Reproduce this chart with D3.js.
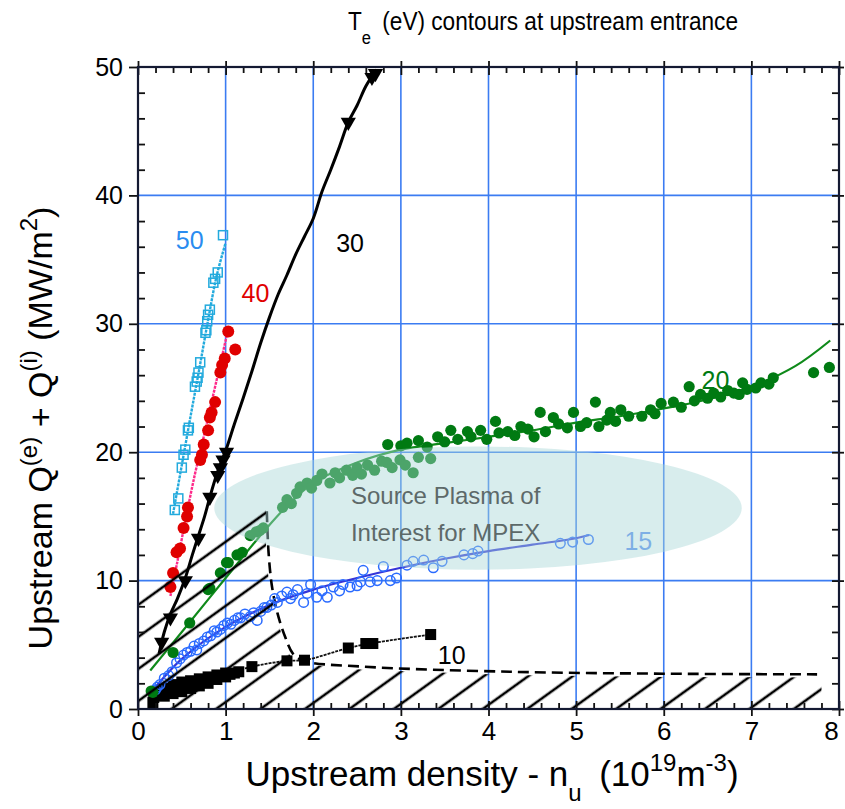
<!DOCTYPE html>
<html>
<head>
<meta charset="utf-8">
<script src="https://cdn.jsdelivr.net/npm/d3@7/dist/d3.min.js"></script>
<style>
  body { margin: 0; background: #fff; }
  #chart { width: 845px; height: 809px; }
  #chart text { font-family: "Liberation Sans", Arial, Helvetica, sans-serif; }
</style>
</head>
<body>
<div id="chart"></div>
<script>
// ticks
const xTicks = [0, 1, 2, 3, 4, 5, 6, 7, 8];
const yTicks = [0, 10, 20, 30, 40, 50];

// Te = 10 eV, filled squares (dense band at low density)
const te10Points = [
  [0.17, 0.5], [0.18, 0.9], [0.2, 1.3], [0.22, 1.1], [0.26, 1.2], [0.3, 1.0], [0.3, 1.6], [0.35, 1.5],
  [0.4, 1.2], [0.4, 1.9], [0.45, 1.7], [0.5, 1.35], [0.5, 2.1], [0.55, 1.9], [0.6, 1.6], [0.6, 2.2],
  [0.65, 2.1], [0.7, 1.8], [0.7, 2.35], [0.75, 2.25], [0.8, 2.0], [0.8, 2.5], [0.85, 2.45], [0.9, 2.3],
  [0.9, 2.65], [0.95, 2.6], [1.0, 2.5], [1.0, 2.8], [1.05, 2.7], [1.1, 2.8], [1.15, 2.9],
  [1.3, 3.3], [1.7, 3.75], [1.9, 3.8], [2.4, 4.75], [2.6, 5.1], [2.68, 5.1], [3.34, 5.8]
];
const te10Line = [[0.15, 0.6], [0.5, 1.8], [1.0, 2.7], [1.3, 3.3], [1.7, 3.75], [1.9, 3.8], [2.4, 4.75], [2.65, 5.1], [3.34, 5.8]];

// Te = 15 eV, open circles
const te15Points = [
  [0.2, 1.5], [0.22, 1.7], [0.25, 1.9], [0.3, 2.4], [0.35, 2.6], [0.39, 2.9], [0.44, 3.6], [0.48, 3.9],
  [0.52, 4.2], [0.56, 4.4], [0.6, 4.5], [0.64, 4.9], [0.67, 4.6], [0.7, 5.1], [0.75, 5.3], [0.79, 5.6],
  [0.83, 5.7], [0.87, 6.1], [0.9, 6.0], [0.94, 6.2], [0.98, 6.5], [1.02, 6.7], [1.06, 6.6], [1.1, 6.9],
  [1.14, 7.1], [1.17, 7.1], [1.22, 7.4], [1.28, 7.2], [1.32, 7.5], [1.36, 6.9], [1.4, 7.6], [1.44, 7.9],
  [1.47, 7.9], [1.52, 8.1], [1.56, 8.6], [1.59, 8.3], [1.64, 8.8], [1.7, 9.1], [1.74, 8.6], [1.77, 8.9],
  [1.82, 9.3], [1.89, 8.3], [1.93, 9.0], [1.97, 9.7], [2.04, 8.7], [2.1, 9.2], [2.16, 8.7], [2.23, 9.5],
  [2.3, 9.2], [2.34, 9.7], [2.42, 9.5], [2.5, 9.6], [2.54, 9.9], [2.57, 10.8], [2.65, 9.9], [2.73, 10.0],
  [2.8, 11.1], [2.88, 10.0], [2.95, 10.2], [3.07, 11.2], [3.14, 11.5], [3.26, 11.6], [3.37, 11.0],
  [3.47, 11.5], [3.72, 12.0], [3.82, 12.1], [3.88, 12.3], [4.82, 12.9], [4.96, 13.0], [5.14, 13.2]
];
const te15Line = [[0.15, 1.3], [0.5, 3.9], [1.0, 6.4], [1.5, 8.1], [2.0, 9.3], [2.5, 10.2], [3.0, 11.0], [3.5, 11.7], [4.0, 12.3], [4.5, 12.8], [5.0, 13.3], [5.15, 13.55]];

// Te = 20 eV, filled circles
const te20Points = [
  [0.15, 1.4], [0.17, 1.3], [0.4, 4.4], [0.59, 6.7], [0.8, 9.3], [0.82, 9.4], [0.94, 10.6], [1.01, 11.4],
  [1.03, 11.4], [1.13, 12.0], [1.19, 12.2], [1.28, 13.5], [1.35, 13.8], [1.39, 13.9], [1.43, 14.1],
  [1.65, 15.7], [1.7, 16.3], [1.75, 16.0], [1.81, 16.8], [1.85, 17.3], [1.93, 17.6], [1.98, 17.2],
  [2.04, 17.8], [2.1, 18.3], [2.19, 17.6], [2.25, 18.4], [2.3, 18.0], [2.38, 18.6], [2.45, 18.2],
  [2.5, 18.8], [2.55, 18.3], [2.62, 19.0], [2.7, 18.6], [2.78, 19.3], [2.84, 19.2], [2.9, 18.8],
  [2.99, 19.4], [3.05, 19.0], [3.14, 18.4], [3.2, 19.6], [3.34, 19.5],
  [2.85, 20.6], [3.0, 20.5], [3.07, 20.7], [3.2, 20.9], [3.3, 20.4], [3.42, 21.2], [3.5, 20.8],
  [3.57, 21.7], [3.65, 21.0], [3.76, 21.6], [3.8, 21.2], [3.91, 21.7], [3.98, 21.0], [4.08, 22.4],
  [4.12, 21.5], [4.22, 21.6], [4.3, 21.3], [4.37, 22.0], [4.45, 21.8], [4.52, 21.2], [4.59, 23.1],
  [4.65, 21.6], [4.74, 22.7], [4.8, 22.2], [4.9, 21.9], [4.97, 23.1], [5.05, 22.0], [5.12, 22.3],
  [5.22, 23.9], [5.26, 22.0], [5.35, 22.5], [5.39, 23.1], [5.45, 22.4], [5.51, 23.3], [5.6, 22.8],
  [5.75, 22.8], [5.85, 23.3], [5.9, 23.0], [5.97, 23.8], [6.11, 23.9], [6.2, 23.5], [6.29, 25.1],
  [6.35, 24.0], [6.42, 24.5], [6.5, 24.2], [6.57, 24.6], [6.65, 24.3], [6.73, 24.8], [6.8, 24.6],
  [6.86, 24.5], [6.9, 25.4], [6.95, 24.9], [7.05, 25.0], [7.11, 25.4], [7.2, 25.3], [7.25, 25.8],
  [7.71, 26.2], [7.89, 26.6]
];
const te20Line = [[0.14, 3.0], [0.5, 6.0], [1.0, 10.2], [1.47, 14.1], [1.7, 15.8], [2.0, 17.6], [2.5, 19.2], [3.0, 20.2], [3.5, 20.7], [4.0, 21.2], [4.5, 21.7], [5.0, 22.3], [5.5, 22.8], [6.0, 23.4], [6.5, 24.1], [7.0, 25.1], [7.5, 26.7], [7.9, 28.7]];

// Te = 30 eV, down triangles
const te30Points = [[0.27, 5.2], [0.37, 7.1], [0.54, 10.0], [0.69, 13.3], [0.82, 16.5], [0.91, 18.2], [0.94, 18.8], [0.97, 19.4], [1.01, 20.0], [2.40, 45.7], [2.67, 49.2], [2.71, 49.5]];
const te30Line = [[0.24, 4.3], [0.3, 6.0], [0.37, 7.4], [0.45, 8.6], [0.54, 10.2], [0.62, 12.0], [0.69, 13.5], [0.76, 15.0], [0.82, 16.5], [0.9, 18.3], [1.01, 20.3], [1.1, 22.2], [1.2, 24.2], [1.3, 26.3], [1.4, 28.5], [1.5, 30.5], [1.6, 32.3], [1.7, 33.8], [1.8, 35.4], [1.9, 36.8], [2.0, 38.2], [2.1, 40.3], [2.2, 42.0], [2.3, 43.8], [2.4, 45.7], [2.5, 47.0], [2.6, 48.5], [2.72, 49.8]];

// Te = 40 eV, red dots
const te40Points = [[0.37, 9.5], [0.4, 10.6], [0.44, 12.2], [0.48, 12.5], [0.52, 14.1], [0.56, 15.0], [0.57, 15.7], [0.71, 19.4], [0.73, 19.8], [0.75, 20.6], [0.8, 21.7], [0.82, 22.7], [0.84, 23.1], [0.88, 23.9], [0.94, 26.2], [0.96, 26.8], [0.99, 27.3], [1.03, 29.4], [1.11, 28.0]];
const te40Line = [[0.37, 8.8], [0.45, 11.5], [0.55, 15.0], [0.65, 18.3], [0.75, 21.2], [0.85, 24.2], [0.95, 27.2], [1.03, 29.6]];

// Te = 50 eV, open squares
const te50Points = [[0.42, 15.5], [0.46, 16.4], [0.5, 18.8], [0.52, 19.8], [0.54, 20.2], [0.57, 21.7], [0.58, 21.9], [0.65, 25.1], [0.67, 25.5], [0.68, 25.8], [0.69, 26.2], [0.71, 27.0], [0.77, 29.3], [0.78, 29.5], [0.79, 30.2], [0.8, 30.7], [0.82, 31.1], [0.86, 33.2], [0.88, 33.5], [0.91, 34.0], [0.97, 36.9]];
const te50Line = [[0.4, 15.2], [0.5, 19.0], [0.6, 22.8], [0.7, 26.5], [0.8, 30.3], [0.9, 33.8], [1.0, 36.3]];

// dashed limit and hatched (excluded) region
const limitLine = [[1.47, 15.4], [1.49, 12.2], [1.53, 9.5], [1.59, 7.5], [1.68, 5.6], [1.77, 4.3], [1.89, 3.75], [2.57, 3.3], [4.25, 2.9], [6.0, 2.75], [7.75, 2.7]];
const hatchRegion = [[0, 0], [0, 8.6], [1.46, 15.7], [1.46, 12.2], [1.5, 9.5], [1.56, 7.5], [1.65, 5.6], [1.74, 4.1], [1.86, 3.5], [2.57, 3.05], [4.25, 2.65], [6.0, 2.5], [7.8, 2.45], [7.8, 0]];

// contour labels
const contourLabels = [
  { text: '50', x: 0.59, y: 36.5, color: '#2a8cf0' },
  { text: '40', x: 1.34, y: 32.4, color: '#e00000' },
  { text: '30', x: 2.42, y: 36.3, color: '#000000' },
  { text: '20', x: 6.59, y: 25.6, color: '#007a12' },
  { text: '15', x: 5.71, y: 13.1, color: '#5b8ff0' },
  { text: '10', x: 3.58, y: 4.2, color: '#000000' }
];
const regionText = ['Source Plasma of', 'Interest for MPEX'];

class ContourChart {
  constructor(id) {
    this.id = id;
    this.width = 845;
    this.height = 809;
    this.margin = { top: 67, right: 6, bottom: 100, left: 138 };
    this.innerWidth = this.width - this.margin.left - this.margin.right;
    this.innerHeight = this.height - this.margin.top - this.margin.bottom;
  }

  init() {
    this.svg = d3.select(`#${this.id}`).append('svg')
      .attr('width', this.width)
      .attr('height', this.height)
      .style('background', '#fff');
    this.mg = this.svg.append('g')
      .attr('transform', `translate(${this.margin.left},${this.margin.top})`);
    this.x = d3.scaleLinear().domain([0, 8]).range([0, this.innerWidth]);
    this.y = d3.scaleLinear().domain([0, 50]).range([this.innerHeight, 0]);
    this.line = d3.line().x(d => this.x(d[0])).y(d => this.y(d[1])).curve(d3.curveCatmullRom);
    return this;
  }

  render() {
    this.renderGrid();
    this.renderLimit();
    this.renderSeries();
    this.renderRegion();
    this.renderHatch();
    this.renderAxes();
    this.renderTitles();
    return this;
  }

  renderGrid() {
    const g = this.mg.append('g').attr('class', 'grid');
    g.selectAll('line.gx').data(xTicks.slice(1, -1)).join('line')
      .attr('x1', d => this.x(d)).attr('x2', d => this.x(d))
      .attr('y1', 0).attr('y2', this.innerHeight)
      .attr('stroke', '#3b7cf2').attr('stroke-width', 1.6);
    g.selectAll('line.gy').data(yTicks.slice(1, -1)).join('line')
      .attr('y1', d => this.y(d)).attr('y2', d => this.y(d))
      .attr('x1', 0).attr('x2', this.innerWidth)
      .attr('stroke', '#3b7cf2').attr('stroke-width', 1.6);
  }

  renderLimit() {
    this.mg.append('path')
      .datum(limitLine)
      .attr('d', this.line)
      .attr('fill', 'none')
      .attr('stroke', '#000')
      .attr('stroke-width', 2.6)
      .attr('stroke-dasharray', '11,6');
  }

  renderSeries() {
    const g = this.mg.append('g').attr('class', 'series');

    // Te 10
    g.append('path').datum(te10Line).attr('d', this.line)
      .attr('fill', 'none').attr('stroke', '#111').attr('stroke-width', 1.8).attr('stroke-dasharray', '3,1');
    g.selectAll('rect.t10').data(te10Points).join('rect')
      .attr('x', d => this.x(d[0]) - 5.5).attr('y', d => this.y(d[1]) - 5.5)
      .attr('width', 11).attr('height', 11).attr('fill', '#000');

    // Te 15
    g.append('path').datum(te15Line).attr('d', this.line)
      .attr('fill', 'none').attr('stroke', '#3535d8').attr('stroke-width', 2.2);
    g.selectAll('circle.t15').data(te15Points).join('circle')
      .attr('cx', d => this.x(d[0])).attr('cy', d => this.y(d[1])).attr('r', 4.8)
      .attr('fill', 'none').attr('stroke', '#2a6bff').attr('stroke-width', 1.5);

    // Te 20
    g.append('path').datum(te20Line).attr('d', this.line)
      .attr('fill', 'none').attr('stroke', '#0f8a1a').attr('stroke-width', 2.2);
    g.selectAll('circle.t20').data(te20Points).join('circle')
      .attr('cx', d => this.x(d[0])).attr('cy', d => this.y(d[1])).attr('r', 5.6)
      .attr('fill', '#007a12');

    // Te 30
    g.append('path').datum(te30Line).attr('d', this.line)
      .attr('fill', 'none').attr('stroke', '#000').attr('stroke-width', 3);
    g.selectAll('path.t30').data(te30Points).join('path')
      .attr('d', d3.symbol(d3.symbolTriangle, 100))
      .attr('transform', d => `translate(${this.x(d[0])},${this.y(d[1])}) rotate(180)`)
      .attr('fill', '#000');

    // Te 40
    g.append('path').datum(te40Line).attr('d', this.line)
      .attr('fill', 'none').attr('stroke', '#ff2a8a').attr('stroke-width', 2.4).attr('stroke-dasharray', '3,1');
    g.selectAll('circle.t40').data(te40Points).join('circle')
      .attr('cx', d => this.x(d[0])).attr('cy', d => this.y(d[1])).attr('r', 6)
      .attr('fill', '#e00000');

    // Te 50
    g.append('path').datum(te50Line).attr('d', this.line)
      .attr('fill', 'none').attr('stroke', '#22aadd').attr('stroke-width', 2.4).attr('stroke-dasharray', '3,1');
    g.selectAll('rect.t50').data(te50Points).join('rect')
      .attr('x', d => this.x(d[0]) - 4.5).attr('y', d => this.y(d[1]) - 4.5)
      .attr('width', 9).attr('height', 9)
      .attr('fill', 'none').attr('stroke', '#22aadd').attr('stroke-width', 1.5);

    // contour labels
    g.selectAll('text.lbl').data(contourLabels).join('text')
      .attr('x', d => this.x(d.x)).attr('y', d => this.y(d.y))
      .attr('text-anchor', 'middle').attr('dominant-baseline', 'central')
      .attr('font-size', 25).attr('fill', d => d.color)
      .text(d => d.text);
  }

  renderRegion() {
    // translucent ellipse drawn over the data
    this.mg.append('ellipse')
      .attr('cx', this.x(3.88)).attr('cy', this.y(15.65))
      .attr('rx', this.x(3.01)).attr('ry', this.innerHeight - this.y(4.8))
      .attr('fill', 'rgb(168,216,216)')
      .attr('fill-opacity', 0.45);
    this.mg.append('text')
      .attr('x', this.x(2.43)).attr('y', this.y(16.0))
      .attr('font-size', 24).attr('fill', '#5d6969')
      .selectAll('tspan').data(regionText).join('tspan')
      .attr('x', this.x(2.43))
      .attr('dy', (d, i) => i ? 37 : 0)
      .text(d => d);
  }

  renderHatch() {
    const step = 26;
    const angle = 54.2;
    const defs = this.svg.append('defs');
    defs.append('pattern')
      .attr('id', 'hatch')
      .attr('patternUnits', 'userSpaceOnUse')
      .attr('width', step).attr('height', 20)
      .attr('patternTransform', `translate(0,${this.y(8.1)}) rotate(${angle}) translate(${-step / 2},0)`)
      .append('line')
      .attr('x1', step / 2).attr('x2', step / 2)
      .attr('y1', 0).attr('y2', 20)
      .attr('stroke', '#000').attr('stroke-width', 2.6);
    this.mg.append('path')
      .datum(hatchRegion)
      .attr('d', d3.line().x(d => this.x(d[0])).y(d => this.y(d[1])))
      .attr('fill', 'url(#hatch)');
  }

  renderAxes() {
    const minorX = d3.range(0, 8.01, 0.2).filter(v => Math.abs(v - Math.round(v)) > 1e-6);
    const minorY = d3.range(0, 50.1, 2).filter(v => v % 10 !== 0);
    const H = this.innerHeight, W = this.innerWidth;
    const clean = g => g.select('.domain').remove();
    const style = g => g.selectAll('line').attr('stroke', '#111').attr('stroke-width', 1.8);

    // bottom
    this.mg.append('g').attr('transform', `translate(0,${H})`)
      .call(d3.axisBottom(this.x).tickValues(xTicks).tickSize(7).tickPadding(6).tickFormat(d3.format('d')))
      .call(clean).call(style)
      .call(g => g.selectAll('text').attr('font-size', 26).attr('fill', '#000')
        .attr('dx', d => d === 8 ? -8 : 0));
    this.mg.append('g').attr('transform', `translate(0,${H})`)
      .call(d3.axisBottom(this.x).tickValues(xTicks).tickSize(-8).tickFormat(''))
      .call(clean).call(style);
    this.mg.append('g').attr('transform', `translate(0,${H})`)
      .call(d3.axisBottom(this.x).tickValues(minorX).tickSize(-6).tickFormat(''))
      .call(clean).call(style);

    // top
    this.mg.append('g')
      .call(d3.axisTop(this.x).tickValues(xTicks).tickSize(6).tickFormat(''))
      .call(clean).call(style);
    this.mg.append('g')
      .call(d3.axisTop(this.x).tickValues(xTicks).tickSize(-8).tickFormat(''))
      .call(clean).call(style);
    this.mg.append('g')
      .call(d3.axisTop(this.x).tickValues(minorX).tickSize(-6).tickFormat(''))
      .call(clean).call(style);

    // left
    this.mg.append('g')
      .call(d3.axisLeft(this.y).tickValues(yTicks).tickSize(9).tickPadding(6).tickFormat(d3.format('d')))
      .call(clean).call(style)
      .call(g => g.selectAll('text').attr('font-size', 25).attr('fill', '#000'));
    this.mg.append('g')
      .call(d3.axisLeft(this.y).tickValues(minorY).tickSize(-7).tickFormat(''))
      .call(clean).call(style);

    // right
    this.mg.append('g').attr('transform', `translate(${W},0)`)
      .call(d3.axisRight(this.y).tickValues(yTicks).tickSize(5).tickFormat(''))
      .call(clean).call(style);
    this.mg.append('g').attr('transform', `translate(${W},0)`)
      .call(d3.axisRight(this.y).tickValues(yTicks.concat(minorY)).tickSize(-7).tickFormat(''))
      .call(clean).call(style);

    // frame
    this.mg.append('rect')
      .attr('width', W).attr('height', H)
      .attr('fill', 'none').attr('stroke', '#141a33').attr('stroke-width', 2.2);
  }

  renderTitles() {
    // title (narrow face)
    const t = this.svg.append('text')
      .attr('transform', 'translate(543,30) scale(0.87,1)')
      .attr('text-anchor', 'middle').attr('font-size', 26).attr('fill', '#000');
    t.append('tspan').text('T');
    t.append('tspan').attr('dy', 14).attr('font-size', 19).text('e');
    t.append('tspan').attr('dy', -14).text('\u2002(eV) contours at upstream entrance');

    // x label
    const xl = this.svg.append('text')
      .attr('x', 492).attr('y', 786)
      .attr('text-anchor', 'middle').attr('font-size', 35).attr('fill', '#000');
    xl.append('tspan').text('Upstream density - n');
    xl.append('tspan').attr('dy', 15).attr('font-size', 24).text('u');
    xl.append('tspan').attr('dy', -15).text('\u2002(10');
    xl.append('tspan').attr('dy', -15).attr('font-size', 24).text('19');
    xl.append('tspan').attr('dy', 15).text('m');
    xl.append('tspan').attr('dy', -15).attr('font-size', 24).text('-3');
    xl.append('tspan').attr('dy', 15).text(')');

    // y label
    const yl = this.svg.append('text')
      .attr('transform', 'translate(52,428) rotate(-90)')
      .attr('text-anchor', 'middle').attr('font-size', 34).attr('fill', '#000');
    yl.append('tspan').text('Upstream Q');
    yl.append('tspan').attr('dy', -15).attr('font-size', 24).text('(e)');
    yl.append('tspan').attr('dy', 15).text(' + Q');
    yl.append('tspan').attr('dy', -15).attr('font-size', 24).text('(i)');
    yl.append('tspan').attr('dy', 15).text(' (MW/m');
    yl.append('tspan').attr('dy', -15).attr('font-size', 24).text('2');
    yl.append('tspan').attr('dy', 15).text(')');
  }
}

new ContourChart('chart').init().render();
</script>
</body>
</html>
